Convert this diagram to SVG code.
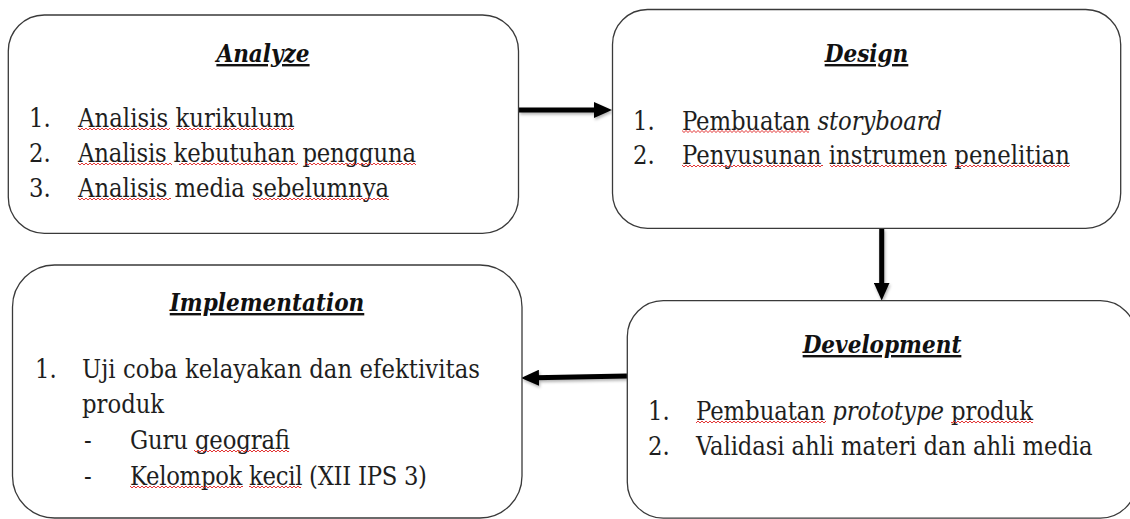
<svg xmlns="http://www.w3.org/2000/svg" width="1130" height="519" viewBox="0 0 1130 519">
  <style>
    .box { fill: #ffffff; stroke: #3a3a3a; stroke-width: 1.3; }
    .title { font-family: "DejaVu Serif Condensed", "DejaVu Serif", "Liberation Serif", serif; font-stretch: condensed; font-size: 24px; font-weight: bold; font-style: italic; fill: #111111; text-anchor: middle; text-decoration: underline; }
    .body { font-family: "DejaVu Serif Condensed", "DejaVu Serif", "Liberation Serif", serif; font-stretch: condensed; font-size: 25.3px; fill: #1e1e1e; }
    .it { font-style: italic; }
    .sq { fill: url(#squiggle); }
    .conn { stroke: #000000; stroke-width: 5; fill: none; marker-end: url(#head); }
  </style>
  <defs>
    <pattern id="squiggle" patternUnits="userSpaceOnUse" x="0" y="0" width="4" height="4">
      <path d="M0,3 L2,1 L4,3" fill="none" stroke="#e02020" stroke-width="0.9"/>
    </pattern>
    <marker id="head" markerUnits="userSpaceOnUse" markerWidth="18" markerHeight="16" refX="4" refY="8" orient="auto" viewBox="0 0 18 16">
      <path d="M0,0 L18,8 L0,16 z" fill="#000000"/>
    </marker>
    <filter id="shadow" x="-20%" y="-20%" width="140%" height="140%">
      <feDropShadow dx="1" dy="2" stdDeviation="1.5" flood-color="#000000" flood-opacity="0.3"/>
    </filter>
  </defs>

  <g id="connectors" filter="url(#shadow)">
    <line class="conn" x1="519" y1="110" x2="598" y2="110"/>
    <line class="conn" x1="881.7" y1="228.5" x2="881.7" y2="286.5"/>
    <line class="conn" x1="627" y1="376" x2="535" y2="377.8"/>
  </g>

  <g id="analyze">
    <rect class="box" x="8.3" y="15" width="510.2" height="218.3" rx="36" ry="36"/>
    <text class="title" x="263" y="62">Analyze</text>
    <text class="body" x="29" y="127">1.</text>
    <text class="body" x="78" y="127" textLength="216.5" lengthAdjust="spacing">Analisis kurikulum</text>
    <text class="body" x="29" y="162">2.</text>
    <text class="body" x="78" y="162" textLength="338" lengthAdjust="spacing">Analisis kebutuhan pengguna</text>
    <text class="body" x="29" y="197">3.</text>
    <text class="body" x="78" y="197" textLength="311" lengthAdjust="spacing">Analisis media sebelumnya</text>
    <rect class="sq" transform="translate(0,127)" x="78" y="0" width="92" height="4"/>
    <rect class="sq" transform="translate(0,127)" x="177" y="0" width="117" height="4"/>
    <rect class="sq" transform="translate(0,162)" x="78" y="0" width="94" height="4"/>
    <rect class="sq" transform="translate(0,162)" x="179" y="0" width="119" height="4"/>
    <rect class="sq" transform="translate(0,162)" x="305" y="0" width="111" height="4"/>
    <rect class="sq" transform="translate(0,197)" x="78" y="0" width="93" height="4"/>
    <rect class="sq" transform="translate(0,197)" x="254" y="0" width="135" height="4"/>
  </g>

  <g id="design">
    <rect class="box" x="612.5" y="9.5" width="508.2" height="218.8" rx="35" ry="35"/>
    <text class="title" x="866.5" y="62">Design</text>
    <text class="body" x="633" y="129.5">1.</text>
    <text class="body" x="682" y="129.5" textLength="260" lengthAdjust="spacing">Pembuatan <tspan class="it">storyboard</tspan></text>
    <text class="body" x="633" y="164">2.</text>
    <text class="body" x="682" y="164" textLength="388" lengthAdjust="spacing">Penyusunan instrumen penelitian</text>
    <rect class="sq" transform="translate(0,129.5)" x="682" y="0" width="127" height="4"/>
    <rect class="sq" transform="translate(0,164)" x="682" y="0" width="141" height="4"/>
    <rect class="sq" transform="translate(0,164)" x="830" y="0" width="117" height="4"/>
    <rect class="sq" transform="translate(0,164)" x="955" y="0" width="115" height="4"/>
  </g>

  <g id="implementation">
    <rect class="box" x="12.5" y="265" width="509.5" height="253" rx="42" ry="42"/>
    <text class="title" x="267" y="311">Implementation</text>
    <text class="body" x="35" y="378">1.</text>
    <text class="body" x="82" y="378" textLength="398" lengthAdjust="spacing">Uji coba kelayakan dan efektivitas</text>
    <text class="body" x="82" y="413">produk</text>
    <text class="body" x="84" y="449">-</text>
    <text class="body" x="130" y="449" textLength="160" lengthAdjust="spacing">Guru geografi</text>
    <text class="body" x="84" y="485">-</text>
    <text class="body" x="130" y="485" textLength="297" lengthAdjust="spacing">Kelompok kecil (XII IPS 3)</text>
    <rect class="sq" transform="translate(0,449)" x="194" y="0" width="95" height="4"/>
    <rect class="sq" transform="translate(0,485)" x="130" y="0" width="113" height="4"/>
    <rect class="sq" transform="translate(0,485)" x="249" y="0" width="52" height="4"/>
  </g>

  <g id="development">
    <rect class="box" x="627.3" y="300.7" width="509" height="217.5" rx="36" ry="36"/>
    <text class="title" x="882" y="353">Development</text>
    <text class="body" x="648" y="420">1.</text>
    <text class="body" x="696" y="420" textLength="337" lengthAdjust="spacing">Pembuatan <tspan class="it">prototype</tspan> produk</text>
    <text class="body" x="648" y="454.5">2.</text>
    <text class="body" x="696" y="454.5" textLength="396.6" lengthAdjust="spacing">Validasi ahli materi dan ahli media</text>
    <rect class="sq" transform="translate(0,420)" x="696" y="0" width="130" height="4"/>
    <rect class="sq" transform="translate(0,420)" x="951" y="0" width="82" height="4"/>
  </g>
</svg>
